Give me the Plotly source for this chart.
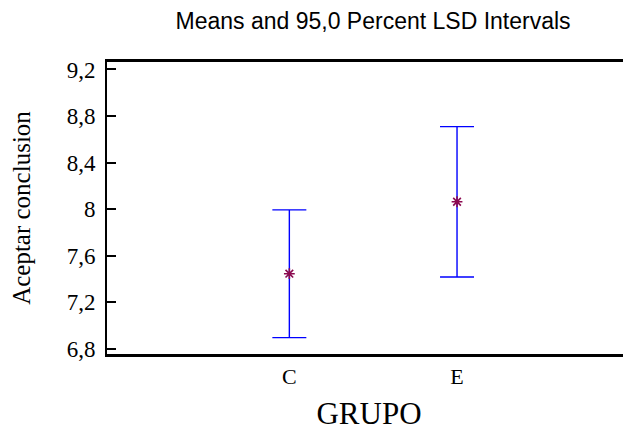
import plotly.graph_objects as go

# Data
groups = ["C", "E"]
group_pos = [1, 2]
means = [7.445, 8.063]
lower = [6.896, 7.417]
upper = [7.993, 8.709]
y_tickvals = [6.8, 7.2, 7.6, 8.0, 8.4, 8.8, 9.2]
y_ticktext = ["6,8", "7,2", "7,6", "8", "8,4", "8,8", "9,2"]

err_plus = [u - m for u, m in zip(upper, means)]
err_minus = [m - l for m, l in zip(means, lower)]

yrange = [6.755, 9.264]
serif = "Liberation Serif, Times New Roman, serif"

# The page body has an 8px margin, so the figure is sized to the visible area.
W, H = 623, 423

fig = go.Figure()
fig.add_trace(go.Scatter(
    x=group_pos, y=means, mode="markers",
    marker=dict(symbol="asterisk-open", size=9, color="#8B0A50",
                line=dict(color="#8B0A50", width=1.6)),
    error_y=dict(type="data", symmetric=False, array=err_plus, arrayminus=err_minus,
                 color="#0000FF", thickness=1.4, width=17),
    showlegend=False, hoverinfo="skip",
))

fig.update_layout(
    width=W, height=H,
    margin=dict(l=99, r=0, t=54, b=77),
    paper_bgcolor="white", plot_bgcolor="white",
    title=dict(text="Means and 95,0 Percent LSD Intervals",
               font=dict(family="Liberation Sans, Arial, sans-serif", size=23, color="black"),
               x=0.586, xanchor="center", y=0.97, yanchor="middle"),
    xaxis=dict(
        range=[-0.0875, 3.0375], automargin=False,
        tickvals=group_pos, ticktext=groups,
        ticks="", showgrid=False, zeroline=False,
        showline=True, linecolor="black", linewidth=2.5, mirror=True,
        tickfont=dict(family=serif, size=22, color="black"),
        ticklabelstandoff=1,
        title=dict(text="GRUPO", font=dict(family=serif, size=31, color="black"), standoff=15),
    ),
    yaxis=dict(
        range=yrange, automargin=False,
        tickvals=y_tickvals, ticktext=y_ticktext,
        ticks="inside", ticklen=9, tickwidth=1.5, tickcolor="black",
        showgrid=False, zeroline=False,
        showline=True, linecolor="black", linewidth=2, mirror=False,
        tickfont=dict(family=serif, size=23, color="black"),
        ticklabelstandoff=5,
        title=dict(text="Aceptar conclusion", font=dict(family=serif, size=25, color="black"), standoff=30),
    ),
    yaxis2=dict(
        range=yrange, overlaying="y", side="right", automargin=False,
        tickvals=y_tickvals, ticks="inside", ticklen=3, tickwidth=1.5, tickcolor="black",
        showticklabels=False, showgrid=False, zeroline=False, showline=False,
    ),
)

fig.write_html("out.html")
